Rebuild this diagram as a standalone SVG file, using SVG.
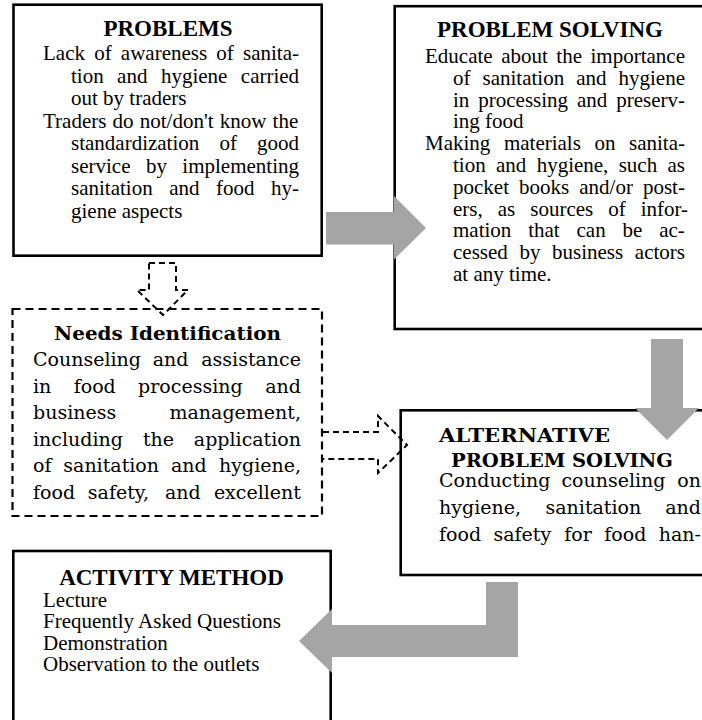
<svg xmlns="http://www.w3.org/2000/svg" width="702" height="720" viewBox="0 0 702 720">
<style>
.box{fill:#fff;stroke:#000;stroke-width:2.6}
.dbox{fill:none;stroke:#000;stroke-width:2.2;stroke-dasharray:8 5}
.darrow{fill:none;stroke:#000;stroke-width:2;stroke-dasharray:6 4}
.garrow{fill:#a5a5a5}
.t{font-family:"Liberation Serif","Times New Roman",serif;font-size:21px;fill:#000}
.tb{font-family:"Liberation Serif","Times New Roman",serif;font-size:23px;font-weight:bold;text-anchor:middle;fill:#000}
.c{font-family:"DejaVu Serif",serif;font-size:19px;fill:#000}
.cb{font-family:"DejaVu Serif",serif;font-size:18.5px;font-weight:bold;fill:#000}
.e{text-anchor:end}
</style>
<rect width="702" height="720" fill="#fff"/>

<g id="problems">
<rect class="box" x="13.5" y="4.7" width="308.2" height="251"/>
<text class="tb" x="168" y="36">PROBLEMS</text>
<text class="t" x="43" y="60" word-spacing="3.95">Lack of awareness of sanita-</text>
<text class="t" x="71" y="82.5" word-spacing="8.2">tion and hygiene carried</text>
<text class="t" x="71" y="105">out by traders</text>
<text class="t" x="43" y="127.5" word-spacing="0.93">Traders do not/don't know the</text>
<text class="t" x="71" y="150" word-spacing="14.85">standardization of good</text>
<text class="t" x="71" y="172.5" word-spacing="10.2">service by implementing</text>
<text class="t" x="71" y="195" word-spacing="11.3">sanitation and food hy-</text>
<text class="t" x="71" y="217.5">giene aspects</text>
</g>

<g id="problem-solving">
<rect class="box" x="394.7" y="6.2" width="320" height="322.8"/>
<text class="tb" x="550" y="37">PROBLEM SOLVING</text>
<text class="t" x="425" y="63" word-spacing="3.27">Educate about the importance</text>
<text class="t" x="453" y="84.8" word-spacing="6.77">of sanitation and hygiene</text>
<text class="t" x="453" y="106.6" word-spacing="3.67">in processing and preserv-</text>
<text class="t" x="453" y="128.4">ing food</text>
<text class="t" x="425" y="150.2" word-spacing="8.33">Making materials on sanita-</text>
<text class="t" x="453" y="172" word-spacing="5.07">tion and hygiene, such as</text>
<text class="t" x="453" y="193.8" word-spacing="4.8">pocket books and/or post-</text>
<text class="t" x="453" y="215.6" word-spacing="9.75">ers, as sources of infor-</text>
<text class="t" x="453" y="237.4" word-spacing="11.6">mation that can be ac-</text>
<text class="t" x="453" y="259.2" word-spacing="6.37">cessed by business actors</text>
<text class="t" x="453" y="281">at any time.</text>
</g>

<g id="needs-identification">
<rect class="dbox" x="12.5" y="309" width="309.5" height="207"/>
<text class="cb" x="54" y="340" textLength="227" lengthAdjust="spacingAndGlyphs">Needs Identification</text>
<text class="c" y="366"><tspan x="33">Counseling</tspan><tspan x="152.8">and</tspan><tspan x="301" class="e">assistance</tspan></text>
<text class="c" y="392.5"><tspan x="33">in</tspan><tspan x="73.7">food</tspan><tspan x="138.1">processing</tspan><tspan x="301" class="e">and</tspan></text>
<text class="c" y="419"><tspan x="33">business</tspan><tspan x="301" class="e">management,</tspan></text>
<text class="c" y="445.5"><tspan x="33">including</tspan><tspan x="142.9">the</tspan><tspan x="301" class="e">application</tspan></text>
<text class="c" y="472"><tspan x="33">of</tspan><tspan x="63.3">sanitation</tspan><tspan x="171">and</tspan><tspan x="301" class="e">hygiene,</tspan></text>
<text class="c" y="498.5"><tspan x="33">food</tspan><tspan x="87.8">safety,</tspan><tspan x="164.9">and</tspan><tspan x="301" class="e">excellent</tspan></text>
</g>

<g id="alternative-problem-solving">
<rect class="box" x="400.7" y="410.3" width="320" height="164.7"/>
<text class="cb" x="439" y="442" textLength="171" lengthAdjust="spacingAndGlyphs">ALTERNATIVE</text>
<text class="cb" x="451" y="467" textLength="222" lengthAdjust="spacingAndGlyphs">PROBLEM SOLVING</text>
<text class="c" y="487"><tspan x="439">Conducting</tspan><tspan x="561.4">counseling</tspan><tspan x="701" class="e">on</tspan></text>
<text class="c" y="514"><tspan x="439">hygiene,</tspan><tspan x="545.5">sanitation</tspan><tspan x="701" class="e">and</tspan></text>
<text class="c" y="541"><tspan x="439">food</tspan><tspan x="493.5">safety</tspan><tspan x="564.3">for</tspan><tspan x="604.3">food</tspan><tspan x="701" class="e">han-</tspan></text>
</g>

<g id="activity-method">
<rect class="box" x="13.3" y="551" width="317.4" height="200"/>
<text class="tb" x="171.5" y="585">ACTIVITY METHOD</text>
<text class="t" x="43" y="606.5">Lecture</text>
<text class="t" x="43" y="628">Frequently Asked Questions</text>
<text class="t" x="43" y="649.5">Demonstration</text>
<text class="t" x="43" y="671">Observation to the outlets</text>
</g>

<g id="connectors">
<polygon class="garrow" points="326,212 394,212 394,196 426,228 394,259.5 394,244.5 326,244.5"/>
<polygon class="garrow" points="651,339 683,339 683,408 699,408 667,440 635,408 651,408"/>
<polygon class="garrow" points="486,582 518,582 518,657 332,657 332,673 299,641 332,609 332,625 486,625"/>
<path class="darrow" d="M149,263 H176 V290 H188 L163,315 L137,290 H149 Z"/>
<path class="darrow" d="M323,432 H378 V416 L407,445 L378,473 V459 H323"/>
</g>
</svg>
